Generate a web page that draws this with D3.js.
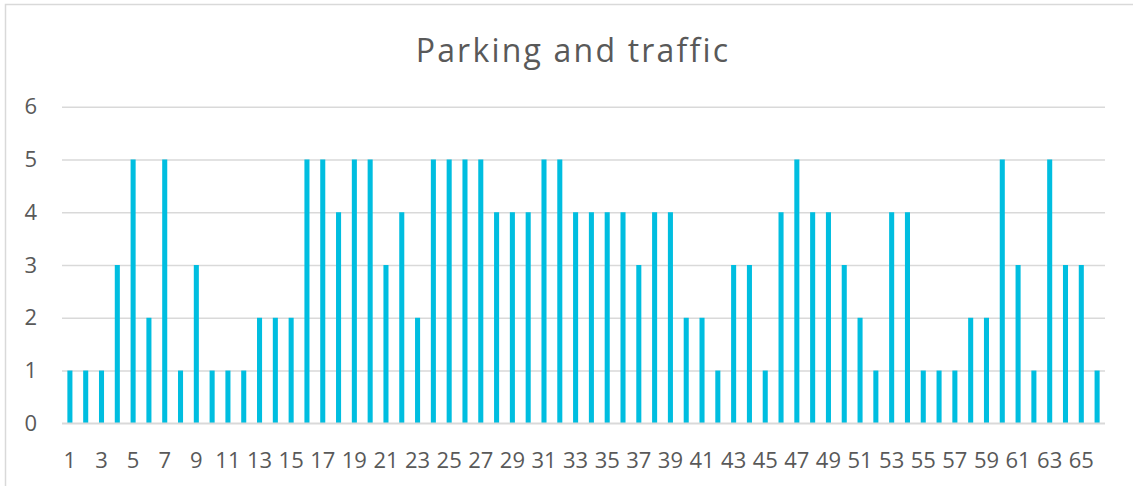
<!DOCTYPE html>
<html>
<head>
	<title>Parking and traffic</title>
	<script src="https://d3js.org/d3.v7.min.js"></script>
	<style>
		body{margin:0;background:#fff;}
		body, text{font-family:'Open Sans', sans-serif;}
		.tick text{fill:#595959;font-size:22px;}
	</style>
</head>
<body>
	<div class="chart"></div>
	<script>
		const categories = d3.range(1, 67)
		const values = [1,1,1,3,5,2,5,1,3,1,1,1,2,2,2,5,5,4,5,5,3,4,2,5,5,5,5,4,4,4,5,5,4,4,4,4,3,4,4,2,2,1,3,3,1,4,5,4,4,3,2,1,4,4,1,1,1,2,2,5,3,1,5,3,3,1]
		const yTicks = [0,1,2,3,4,5,6]
		const title = 'Parking and traffic'

		const W = 1133, H = 486
		const mLeft = 62, mRight = 1105, mTop = 106.7, mBottom = 423.3

		const svg = d3.select('.chart').append('svg').attr('width',W).attr('height',H)

		// chart border (only top and left show in frame)
		svg.append('path')
			.attr('d',`M5.5,${H} L5.5,4.5 L${W},4.5`)
			.attr('fill','none').attr('stroke','#d9d9d9').attr('stroke-width',1.5)

		svg.append('text')
			.attr('x',573).attr('y',62)
			.attr('text-anchor','middle')
			.attr('fill','#595959')
			.style('font-size','32px')
			.style('letter-spacing','2.2px')
			.text(title)

		const x = d3.scaleBand()
					.domain(categories)
					.range([mLeft,mRight])
					.paddingInner(0.68)
					.paddingOuter(0.34)

		const y = d3.scaleLinear()
					.domain([0,6])
					.range([mBottom,mTop])

		const yAxis = d3.axisLeft(y)
					.tickValues(yTicks)
					.tickFormat(d3.format('d'))
					.tickSize(-(mRight-mLeft))
					.tickPadding(25)
		const gy = svg.append('g').attr('transform',`translate(${mLeft},0)`).call(yAxis)
		gy.attr('font-size',22).attr('font-family','Open Sans')
		gy.select('.domain').remove()
		gy.selectAll('.tick line').attr('stroke','#d9d9d9').attr('stroke-width',1.5)

		svg.append('g').selectAll('rect')
			.data(values)
			.join('rect')
			.attr('x',(d,i)=>x(categories[i]))
			.attr('width',x.bandwidth())
			.attr('y',d=>y(d))
			.attr('height',d=>y(0)-y(d))
			.attr('fill','#00bee0')

		const xAxis = d3.axisBottom(x)
					.tickValues(categories.filter(c=>c%2===1))
					.tickSize(0)
					.tickPadding(29)
		const gx = svg.append('g').attr('transform',`translate(0,${mBottom})`).call(xAxis)
		gx.attr('font-size',22).attr('font-family','Open Sans')
		gx.select('.domain').remove()

		// baseline over bars
		svg.append('line')
			.attr('x1',mLeft).attr('x2',mRight)
			.attr('y1',y(0)).attr('y2',y(0))
			.attr('stroke','#d9d9d9').attr('stroke-width',1.5)
	</script>
</body>
</html>
